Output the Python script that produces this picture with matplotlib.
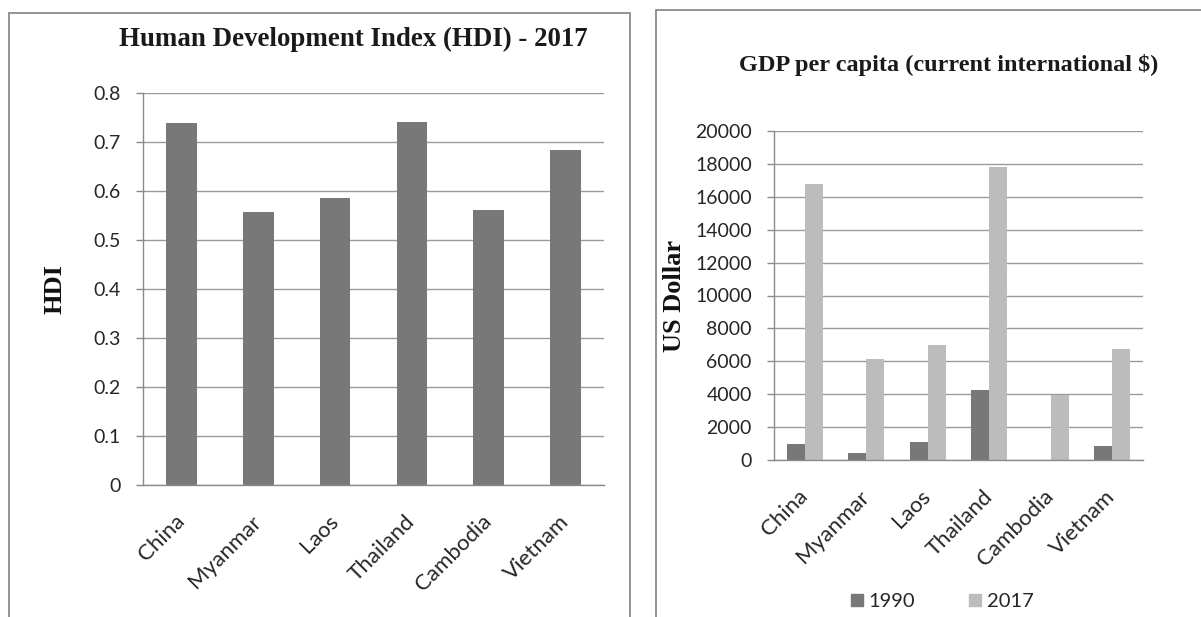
import numpy as np
import matplotlib
matplotlib.use("Agg")
import matplotlib.pyplot as plt
from matplotlib.patches import Rectangle
from matplotlib.lines import Line2D

# ── data ────────────────────────────────────────────────────────────────────
countries = ["China", "Myanmar", "Laos", "Thailand", "Cambodia", "Vietnam"]
hdi_2017 = [0.738, 0.557, 0.586, 0.741, 0.562, 0.684]
gdp_1990 = [970, 440, 1110, 4270, 0, 870]
gdp_2017 = [16760, 6140, 6970, 17840, 3980, 6760]

hdi_ticks = [0, 0.1, 0.2, 0.3, 0.4, 0.5, 0.6, 0.7, 0.8]
hdi_tick_labels = ["0", "0.1", "0.2", "0.3", "0.4", "0.5", "0.6", "0.7", "0.8"]
gdp_ticks = list(range(0, 20001, 2000))

# ── style ───────────────────────────────────────────────────────────────────
DARK = "#787878"
LIGHT = "#bcbcbc"
GRID = "#9a9a9a"
FRAME = "#8a8a8a"
TXT = "#262626"
SANS = ["Lato", "DejaVu Sans"]
SERIF = "Liberation Serif"
TICK_FS = 14
CAT_FS = 16

plt.rcParams["font.family"] = SANS

W, H = 1201, 617
fig = plt.figure(figsize=(W / 100, H / 100), dpi=100)
fig.patch.set_facecolor("white")


def px_axes(x0, y0, x1, y1):
    # axes rectangle given in pixel coords measured from the top-left
    return fig.add_axes([x0 / W, 1 - y1 / H, (x1 - x0) / W, (y1 - y0) / H])


def style_axes(ax):
    ax.set_facecolor("none")
    for s in ("top", "right"):
        ax.spines[s].set_visible(False)
    ax.spines["left"].set_color(FRAME)
    ax.spines["bottom"].set_color(FRAME)
    ax.spines["left"].set_linewidth(1.0)
    ax.spines["bottom"].set_linewidth(1.0)
    ax.grid(axis="y", color=GRID, linewidth=1.0)
    ax.set_axisbelow(True)
    ax.tick_params(axis="y", length=5, width=1.0, color=FRAME,
                   labelsize=TICK_FS, labelcolor=TXT, pad=11)
    ax.tick_params(axis="x", length=0, labelsize=CAT_FS, labelcolor=TXT, pad=24)
    for lab in ax.get_xticklabels():
        lab.set_rotation(45)
        lab.set_ha("right")
        lab.set_va("center")
        lab.set_rotation_mode("anchor")


# panel frames
fig.add_artist(Rectangle((9 / W, -0.1), (630 - 9) / W, 1.1 - 13 / H,
                         transform=fig.transFigure, fill=False,
                         edgecolor=FRAME, linewidth=1.3))
fig.add_artist(Rectangle((656 / W, -0.1), 0.5, 1.1 - 10 / H,
                         transform=fig.transFigure, fill=False,
                         edgecolor=FRAME, linewidth=1.3))

# ── left: HDI ───────────────────────────────────────────────────────────────
x = np.arange(len(countries))
ax1 = px_axes(143, 93, 604, 485)
ax1.bar(x, hdi_2017, width=0.4, color=DARK)
ax1.set_xlim(-0.5, len(countries) - 0.5)
ax1.set_ylim(0, 0.8)
ax1.set_yticks(hdi_ticks)
ax1.set_yticklabels(hdi_tick_labels)
ax1.set_xticks(x)
ax1.set_xticklabels(countries)
style_axes(ax1)
ax1.set_ylabel("HDI", family=SERIF, fontweight="bold", fontsize=19,
               color="#111111", va="center")
ax1.yaxis.set_label_coords(-0.191, 0.5)
fig.text(353 / W, 1 - 39 / H, "Human Development Index (HDI) - 2017",
         family=SERIF, fontweight="bold", fontsize=19.4, color="#1a1a1a",
         ha="center", va="center")

# ── right: GDP per capita ───────────────────────────────────────────────────
ax2 = px_axes(774, 131, 1143, 460)
bw = 0.29
ax2.bar(x - bw / 2, gdp_1990, width=bw, color=DARK, label="1990")
ax2.bar(x + bw / 2, gdp_2017, width=bw, color=LIGHT, label="2017")
ax2.set_xlim(-0.5, len(countries) - 0.5)
ax2.set_ylim(0, 20000)
ax2.set_yticks(gdp_ticks)
ax2.set_xticks(x)
ax2.set_xticklabels(countries)
style_axes(ax2)
ax2.set_ylabel("US Dollar", family=SERIF, fontweight="bold", fontsize=19,
               color="#111111", va="center")
ax2.yaxis.set_label_coords(-0.271, 0.5)
fig.text(949 / W, 1 - 65 / H, "GDP per capita (current international $)",
         family=SERIF, fontweight="bold", fontsize=17.5, color="#1a1a1a",
         ha="center", va="center")

handles = [Line2D([], [], linestyle="none", marker="s", markersize=8.5,
                  markerfacecolor=c, markeredgecolor=c) for c in (DARK, LIGHT)]
fig.legend(handles, ["1990", "2017"], loc="center",
           bbox_to_anchor=(942 / W, 1 - 601 / H), ncol=2, frameon=False,
           fontsize=14.5, handlelength=0.6, handletextpad=0.3,
           columnspacing=2.65, labelcolor=TXT)

fig.savefig("out.png", dpi=100, facecolor="white")
